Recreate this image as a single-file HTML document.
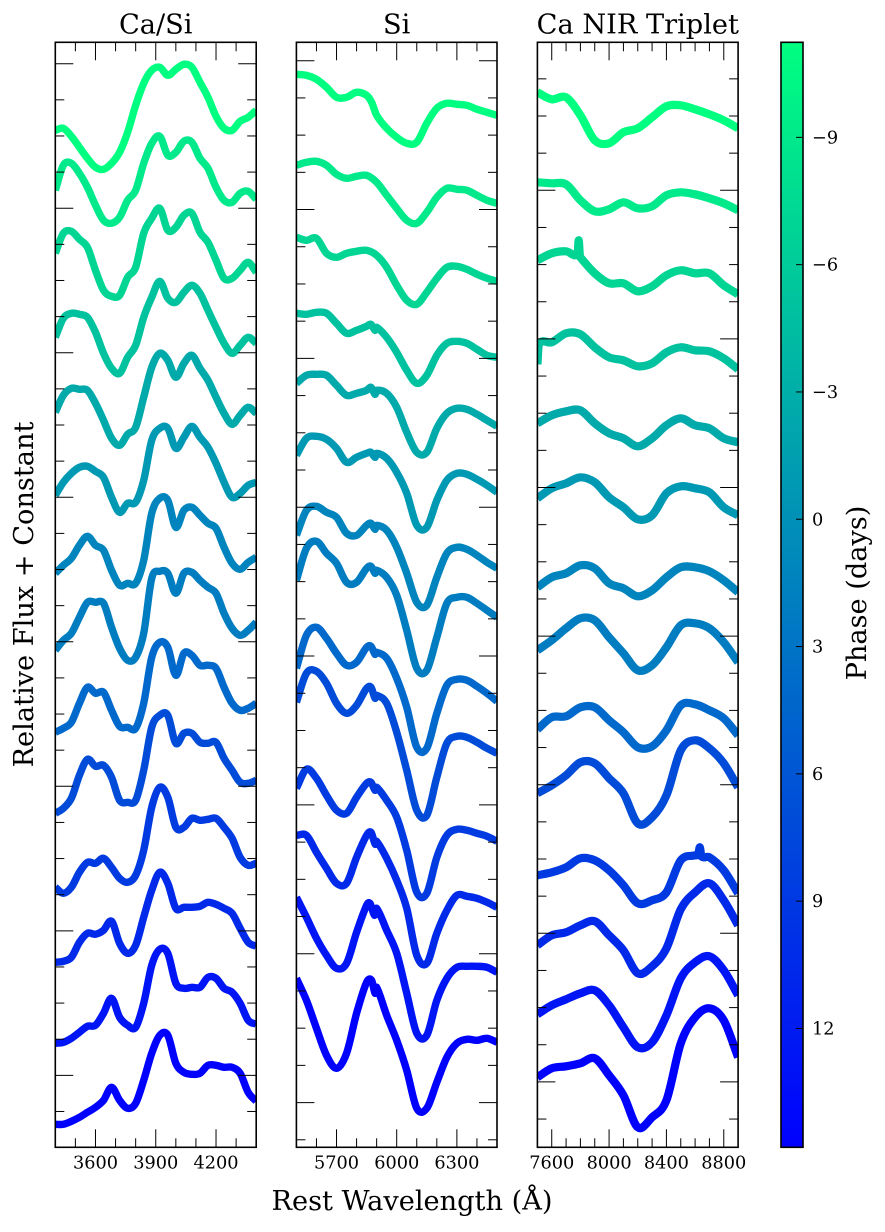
<!DOCTYPE html>
<html>
<head>
<meta charset="utf-8">
<title>Spectra by phase</title>
<style>
html,body{margin:0;padding:0;background:#fff;}
svg{display:block;}
text{font-family:"DejaVu Serif","Liberation Serif",serif;fill:#000;}
.tick{font-size:17.7px;}
.lab{font-size:27.2px;}
</style>
</head>
<body>
<svg id="chart" width="885" height="1232" viewBox="0 0 885 1232" xmlns="http://www.w3.org/2000/svg">
  <defs>
    <linearGradient id="winterGrad" x1="0" y1="0" x2="0" y2="1">
      <stop offset="0" stop-color="rgb(0,255,128)"/>
      <stop offset="1" stop-color="rgb(0,0,255)"/>
    </linearGradient>
    <clipPath id="clip0"><rect x="55.3" y="42.3" width="200.9" height="1105"/></clipPath>
    <clipPath id="clip1"><rect x="296.4" y="42.3" width="200.6" height="1105"/></clipPath>
    <clipPath id="clip2"><rect x="537.4" y="42.3" width="200.7" height="1105"/></clipPath>
  </defs>
  <g id="plots"></g>
  <text class="lab" x="155.7" y="33.5" text-anchor="middle">Ca/Si</text>
  <text class="lab" x="396.7" y="33.5" text-anchor="middle">Si</text>
  <text class="lab" x="637.8" y="33.5" text-anchor="middle">Ca NIR Triplet</text>
  <text class="lab" x="412" y="1210" text-anchor="middle">Rest Wavelength (Å)</text>
  <text class="lab" transform="translate(33,594.5) rotate(-90)" text-anchor="middle">Relative Flux + Constant</text>
  <text class="lab" transform="translate(866,593) rotate(-90)" text-anchor="middle">Phase (days)</text>
  <g id="cbar">
    <rect x="781" y="42.3" width="22" height="1105" fill="url(#winterGrad)" stroke="#000" stroke-width="1.6"/>
  </g>
</svg>
<script>
// Phase of each spectrum (days), top to bottom
const phases = [-11.2,-9,-7,-5,-2.5,-0.8,1.3,2,4.1,7,8.8,10.6,12.7,14.8];
const colorbarTicks = [-9,-6,-3,0,3,6,9,12];
const phaseDomain = [-11.24,14.8];

// Wavelength grids (Angstrom)
const waveCaSi = [3400,3440,3480,3520,3560,3600,3640,3680,3720,3760,3800,3840,3880,3920,3960,4000,4040,4080,4120,4160,4200,4240,4280,4320,4360,4400];
const waveSi = [5500,5550,5600,5650,5700,5750,5800,5850,5900,5950,6000,6050,6100,6150,6200,6250,6300,6350,6400,6450,6500];
const waveCaNir = [7500,7600,7700,7800,7900,8000,8100,8200,8300,8400,8500,8600,8700,8800,8900];

// Flux + constant (height above axis floor, arbitrary units)
const fluxCaSi = [
[1017,1019,1011,1000,989,980,978,984,995,1015,1042,1064,1077,1080,1072,1078,1083,1080,1065,1050,1031,1019,1017,1026,1030,1037],
[957,982,984,974,960,942,927,924,930,947,957,984,1004,1011,992,995,1006,1005,989,979,960,947,945,954,956,948],
[894,914,916,908,900,877,857,851,852,870,880,914,929,939,917,920,932,934,915,905,887,869,869,877,885,875],
[810,829,834,833,830,815,794,779,774,790,802,830,850,866,849,845,855,862,854,837,820,804,794,802,810,804],
[735,752,759,758,757,744,727,709,702,713,720,750,780,794,787,770,784,792,779,767,750,734,723,732,740,734],
[652,665,674,680,681,676,670,650,635,644,645,667,707,719,719,699,710,721,710,700,684,665,650,654,662,665],
[574,582,589,602,611,602,597,577,562,564,564,587,634,649,647,620,637,640,632,624,619,600,584,578,585,590],
[497,507,514,530,545,545,544,520,499,487,490,514,569,576,574,554,574,575,567,560,554,534,519,512,517,525],
[415,419,425,444,460,454,455,437,421,420,419,444,490,505,500,472,494,492,482,482,479,460,444,437,439,444],
[334,339,349,372,388,381,382,370,347,345,347,377,420,432,432,404,414,414,405,404,405,389,377,365,364,367],
[260,254,260,275,285,284,289,280,269,265,272,297,340,360,350,320,320,329,327,328,329,320,309,290,282,284],
[185,186,190,205,214,213,217,226,204,194,202,230,257,275,264,239,240,240,241,245,243,239,234,219,205,201],
[104,105,109,115,121,122,134,149,130,122,120,144,182,198,194,164,159,160,160,170,169,159,155,144,127,123],
[23,23,26,30,35,40,47,60,47,39,44,67,94,112,112,84,75,73,74,82,82,80,80,74,55,46]
];
const fluxSi = [
[1073,1072,1068,1060,1050,1050,1055,1052,1032,1019,1010,1004,1005,1024,1039,1044,1043,1042,1038,1035,1032],
[982,985,986,982,973,969,971,972,965,952,939,927,924,935,950,959,958,957,952,947,944],
[910,907,909,894,890,894,896,897,892,880,862,847,843,855,869,880,881,878,873,869,866],
[834,833,835,834,824,814,817,821,820,810,795,777,764,772,792,804,806,804,798,792,790],
[764,772,773,772,762,752,754,757,757,754,740,715,695,695,719,734,739,738,733,727,721],
[692,709,711,708,699,685,690,694,694,689,675,654,622,620,647,667,674,673,668,662,655],
[612,637,641,635,630,614,612,622,622,617,600,574,545,542,570,594,600,598,592,585,579],
[567,599,606,594,584,565,565,579,577,570,552,517,479,477,510,544,550,550,544,537,530],
[479,512,520,509,494,482,485,500,495,489,469,440,400,399,434,462,468,467,461,454,446],
[445,474,476,464,444,434,442,459,452,444,415,377,337,332,370,404,411,410,405,399,394],
[359,378,369,352,337,334,350,364,360,347,330,297,255,254,290,312,318,317,314,311,306],
[312,312,295,279,264,264,290,312,306,289,267,239,192,184,214,237,252,251,249,245,240],
[250,230,209,192,179,184,215,242,239,217,194,154,114,112,147,169,180,181,181,180,175],
[169,147,119,92,79,94,134,165,160,132,107,77,39,39,65,90,104,108,107,109,105]
];
const fluxCaNir = [
[1055,1048,1050,1032,1007,1004,1015,1019,1030,1041,1042,1038,1033,1027,1019],
[965,964,963,947,936,938,945,939,941,952,955,953,949,944,937],
[887,894,896,890,874,864,864,856,861,872,877,874,874,862,853],
[783,805,814,813,800,790,787,781,784,795,800,797,796,789,778],
[724,732,736,737,724,714,709,701,709,722,729,722,719,709,705],
[649,659,664,670,665,650,640,628,632,654,661,659,655,640,632],
[560,570,574,582,579,564,559,551,557,570,580,580,576,567,555],
[497,507,519,529,527,510,494,477,482,500,522,524,519,505,485],
[418,430,431,440,440,427,415,400,401,417,442,443,437,429,412],
[354,362,372,385,384,369,354,324,330,352,397,407,399,384,360],
[272,275,280,289,287,277,262,244,247,255,287,292,290,277,254],
[202,212,215,222,226,212,197,174,181,199,238,255,264,247,222],
[133,142,148,154,157,142,120,100,105,132,169,185,191,177,152],
[70,79,81,84,89,72,52,20,30,47,104,130,139,127,90]
];

// Narrow spectral features between grid points: [spectrum index, wavelength, flux]
const narrowCaSi = [];
const narrowSi = [
[0,5875,1045],[3,5872,823],[3,5892,817],[4,5872,760],[4,5892,753],[5,5872,695],[5,5892,690],
[6,5872,624],[6,5892,618],[7,5872,581],[7,5892,574],[8,5872,501],[8,5892,493],[9,5872,460],[9,5892,449],
[10,5872,365],[10,5892,357],[11,5872,315],[11,5893,303],[12,5867,244],[12,5889,232],[13,5875,167],[13,5892,154]
];
const narrowCaNir = [
[2,7780,893],[2,7788,907],[2,7796,892],[3,7510,803],[10,8622,293],[10,8633,300],[10,8644,291]
];

// Tick values
const xTicksCaSi = [3400,3500,3600,3700,3800,3900,4000,4100,4200,4300,4400];
const xTicksSi = [5500,5600,5700,5800,5900,6000,6100,6200,6300,6400,6500];
const xTicksCaNir = [7500,7600,7700,7800,7900,8000,8100,8200,8300,8400,8500,8600,8700,8800,8900];
const xLabelsCaSi = [3600,3900,4200];
const xLabelsSi = [5700,6000,6300];
const xLabelsCaNir = [7600,8000,8400,8800];
const yTickOrigins = [1083.6,1086.6,1105.6];
const yTickSteps = [36.13,37.21,37.15];
const panelNames = ['ca-si','si','ca-nir'];

const NS = 'http://www.w3.org/2000/svg';
const plotTop = 42.3, plotBottom = 1147.3;
const panelBox = [[55.3,256.2],[296.4,497],[537.4,738.1]];
const panelStroke = [7.4,7.4,8.2];
const panelWave = [waveCaSi,waveSi,waveCaNir];
const panelFlux = [fluxCaSi,fluxSi,fluxCaNir];
const panelNarrow = [narrowCaSi,narrowSi,narrowCaNir];
const panelXTicks = [xTicksCaSi,xTicksSi,xTicksCaNir];
const panelXLabels = [xLabelsCaSi,xLabelsSi,xLabelsCaNir];

function xScale(p, w) {
  const g = panelWave[p];
  const d0 = g[0], d1 = g[g.length - 1];
  return panelBox[p][0] + (w - d0) / (d1 - d0) * (panelBox[p][1] - panelBox[p][0]);
}
function yScale(v) { return plotBottom - v; }
function phaseY(ph) {
  return plotTop + (ph - phaseDomain[0]) / (phaseDomain[1] - phaseDomain[0]) * (plotBottom - plotTop);
}
function winter(ph) {
  const f = Math.min(1, Math.max(0, (phaseDomain[1] - ph) / (phaseDomain[1] - phaseDomain[0])));
  return 'rgb(0,' + Math.round(255 * f) + ',' + Math.round(255 * (1 - f / 2)) + ')';
}
function smoothPath(pts) {
  let d = 'M' + pts[0][0].toFixed(2) + ' ' + pts[0][1].toFixed(2);
  for (let i = 0; i < pts.length - 1; i++) {
    const a = pts[Math.max(0, i - 1)], b = pts[i], c = pts[i + 1], e = pts[Math.min(pts.length - 1, i + 2)];
    const dx = c[0] - b[0];
    const m1 = (c[1] - a[1]) / Math.max(1e-6, c[0] - a[0]);
    const m2 = (e[1] - b[1]) / Math.max(1e-6, e[0] - b[0]);
    d += 'C' + (b[0] + dx / 3).toFixed(2) + ' ' + (b[1] + m1 * dx / 3).toFixed(2) + ' ' +
         (c[0] - dx / 3).toFixed(2) + ' ' + (c[1] - m2 * dx / 3).toFixed(2) + ' ' +
         c[0].toFixed(2) + ' ' + c[1].toFixed(2);
  }
  return d;
}
function line(parent, x1, y1, x2, y2, w) {
  const l = document.createElementNS(NS, 'line');
  l.setAttribute('x1', x1);
  l.setAttribute('y1', y1);
  l.setAttribute('x2', x2);
  l.setAttribute('y2', y2);
  l.setAttribute('stroke', '#000');
  l.setAttribute('stroke-width', w);
  parent.appendChild(l);
  return l;
}

const plots = document.getElementById('plots');
panelWave.forEach(function (grid, p) {
  const g = document.createElementNS(NS, 'g');
  
  
  plots.appendChild(g);

  const series = document.createElementNS(NS, 'g');
  series.setAttribute('clip-path', 'url(#clip' + p + ')');
  
  
  g.appendChild(series);

  panelFlux[p].forEach(function (flux, s) {
    const raw = grid.map(function (w, i) { return [w, flux[i]]; });
    panelNarrow[p].forEach(function (n) {
      if (n[0] === s) raw.push([n[1], n[2]]);
    });
    raw.sort(function (a, b) { return a[0] - b[0]; });
    const pts = raw.map(function (r) { return [xScale(p, r[0]), yScale(r[1])]; });
    const path = document.createElementNS(NS, 'path');
    path.setAttribute('d', smoothPath(pts));
    path.setAttribute('fill', 'none');
    path.setAttribute('stroke', winter(phases[s]));
    path.setAttribute('stroke-width', panelStroke[p]);
    path.setAttribute('stroke-linejoin', 'round');
    
    
    series.appendChild(path);
  });

  const ticks = document.createElementNS(NS, 'g');
  
  
  g.appendChild(ticks);

  const left = panelBox[p][0], right = panelBox[p][1];
  for (let k = 0; ; k++) {
    const v = yTickOrigins[p] - k * yTickSteps[p];
    if (v < 0) break;
    const y = yScale(v);
    if (y <= plotTop + 1) continue;
    const len = k % 4 === 0 ? 18 : 9;
    line(ticks, left, y, left + len, y, 1);
    line(ticks, right, y, right - len, y, 1);
  }
  panelXTicks[p].forEach(function (w, i) {
    const x = xScale(p, w);
    const isMajor = panelXLabels[p].indexOf(w) >= 0;
    const len = isMajor ? 18 : 9;
    if (i === 0 || i === panelXTicks[p].length - 1) return;
    line(ticks, x, plotBottom, x, plotBottom - len, 1);
    line(ticks, x, plotTop, x, plotTop + len, 1);
  });
  panelXLabels[p].forEach(function (w) {
    const t = document.createElementNS(NS, 'text');
    t.setAttribute('class', 'tick');
    t.setAttribute('x', xScale(p, w));
    t.setAttribute('y', 1168.5);
    t.setAttribute('text-anchor', 'middle');
    
    
    t.textContent = String(w);
    g.appendChild(t);
  });

  const frame = document.createElementNS(NS, 'rect');
  frame.setAttribute('x', left);
  frame.setAttribute('y', plotTop);
  frame.setAttribute('width', right - left);
  frame.setAttribute('height', plotBottom - plotTop);
  frame.setAttribute('fill', 'none');
  frame.setAttribute('stroke', '#000');
  frame.setAttribute('stroke-width', '1.6');
  
  
  g.appendChild(frame);
});

const cbar = document.getElementById('cbar');
colorbarTicks.forEach(function (ph) {
  const y = phaseY(ph);
  const l = line(cbar, 796, y, 803, y, 1);
  
  
  const t = document.createElementNS(NS, 'text');
  t.setAttribute('class', 'tick');
  t.setAttribute('x', 812);
  t.setAttribute('y', y + 6);
  
  
  t.textContent = ph < 0 ? '\u2212' + Math.abs(ph) : String(ph);
  cbar.appendChild(t);
});
</script>
</body>
</html>
